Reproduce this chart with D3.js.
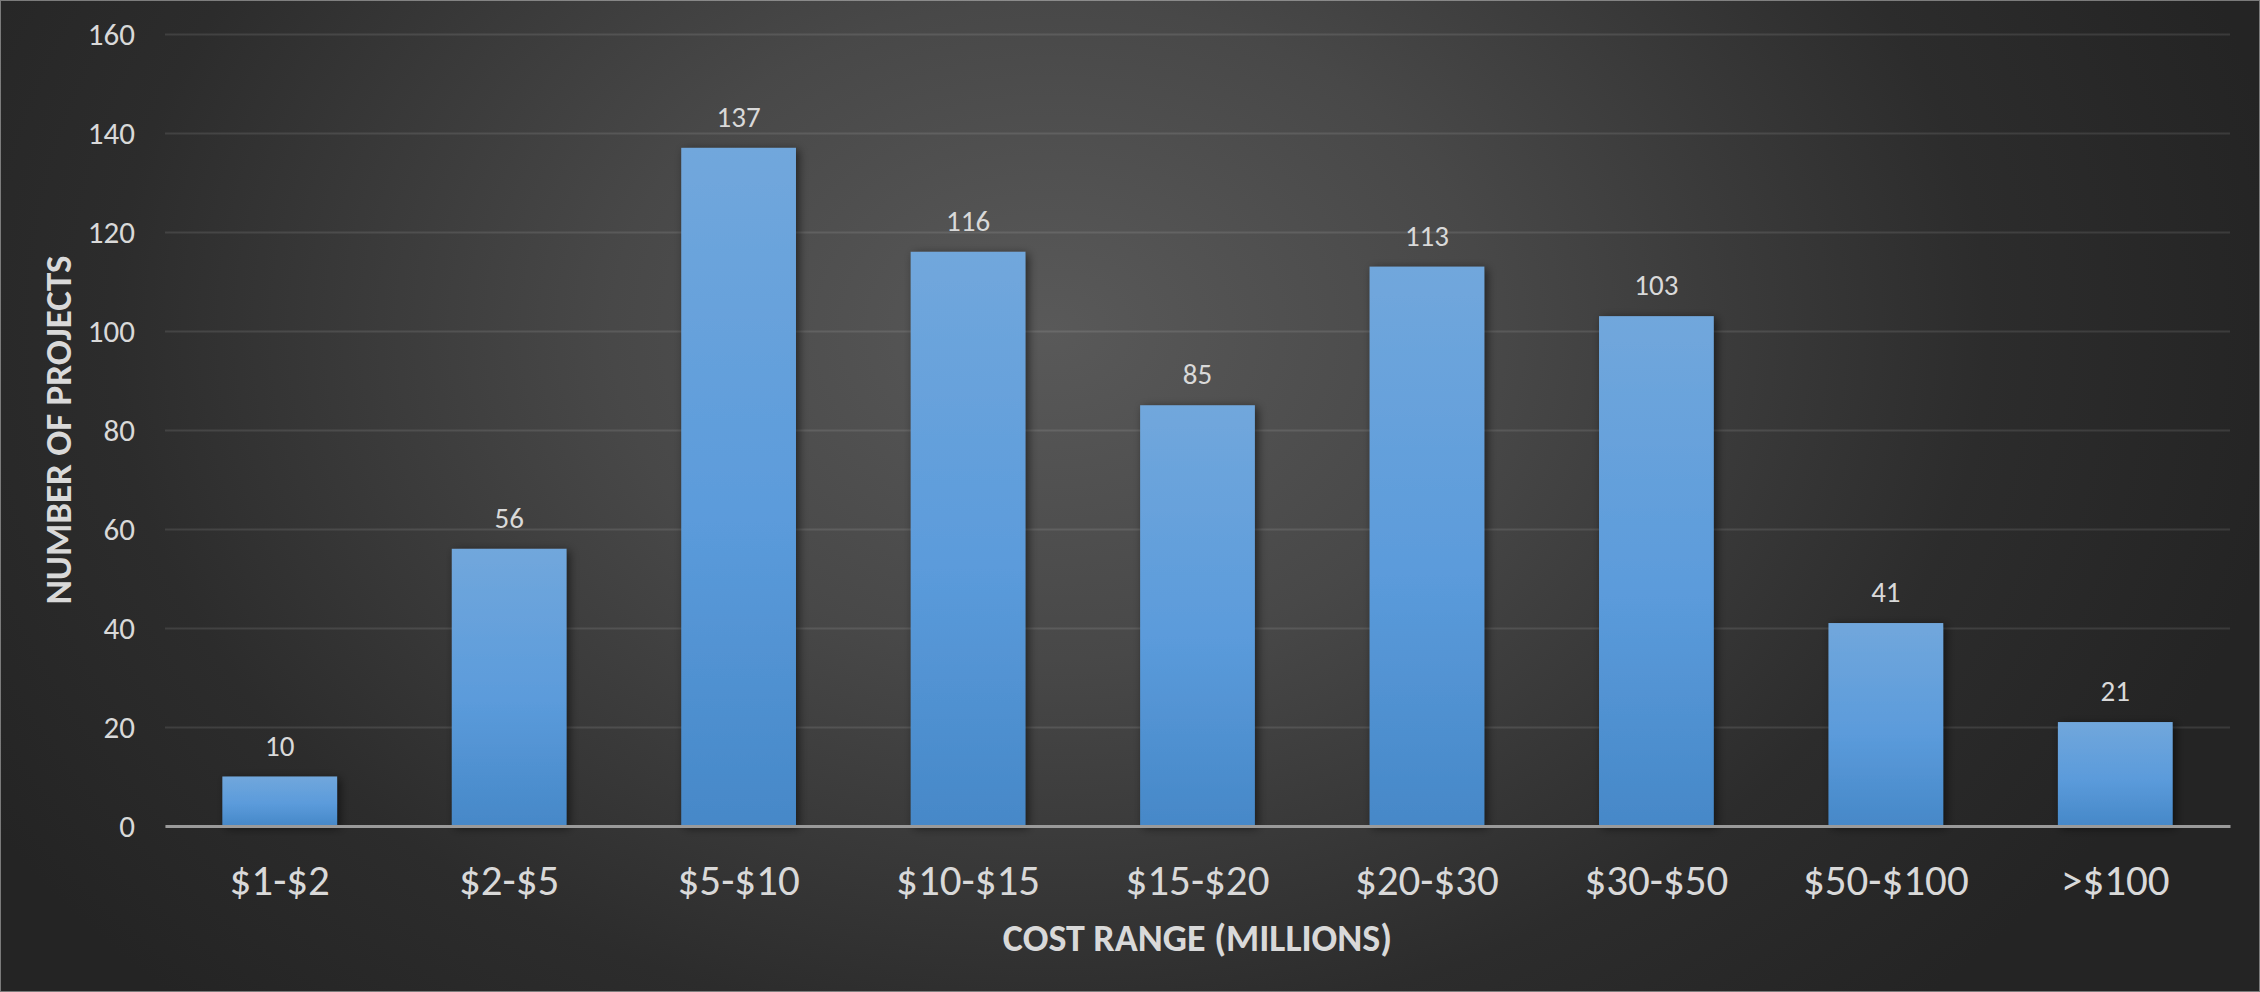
<!DOCTYPE html>
<html>
<head>
<meta charset="utf-8">
<script src="https://cdn.jsdelivr.net/npm/d3@7"></script>
<style>
  html, body { margin: 0; padding: 0; background: #262626; }
  svg { display: block; }
  text { font-family: Carlito, Calibri, Lato, "Open Sans", sans-serif; fill: #d9d9d9; }
</style>
</head>
<body>
<svg id="chart" width="2260" height="992"></svg>
<script>
const categories = ["$1-$2", "$2-$5", "$5-$10", "$10-$15", "$15-$20", "$20-$30", "$30-$50", "$50-$100", ">$100"];
const projectCounts = [10, 56, 137, 116, 85, 113, 103, 41, 21];
const yTicks = [0, 20, 40, 60, 80, 100, 120, 140, 160];
const xTitle = "COST RANGE (MILLIONS)";
const yTitle = "NUMBER OF PROJECTS";

const W = 2260, H = 992;
const margin = { left: 165, right: 30, top: 34, bottom: 166 };
const svg = d3.select("#chart");
const defs = svg.append("defs");

const bg = defs.append("radialGradient").attr("id", "bg")
  .attr("gradientUnits", "userSpaceOnUse")
  .attr("cx", 1050).attr("cy", 330).attr("r", 1250)
  .attr("gradientTransform", "translate(1050,330) scale(1,0.75) translate(-1050,-330)");
bg.append("stop").attr("offset", "0%").attr("stop-color", "#595959");
bg.append("stop").attr("offset", "35%").attr("stop-color", "#484848");
bg.append("stop").attr("offset", "75%").attr("stop-color", "#2c2c2c");
bg.append("stop").attr("offset", "100%").attr("stop-color", "#242424");

const barGrad = defs.append("linearGradient").attr("id", "barGrad")
  .attr("x1", 0).attr("y1", 0).attr("x2", 0).attr("y2", 1);
barGrad.append("stop").attr("offset", "0%").attr("stop-color", "#71a7dc");
barGrad.append("stop").attr("offset", "55%").attr("stop-color", "#5b9bdb");
barGrad.append("stop").attr("offset", "100%").attr("stop-color", "#4688c8");

const shadow = defs.append("filter").attr("id", "shadow")
  .attr("x", "-20%").attr("y", "-20%").attr("width", "140%").attr("height", "140%");
shadow.append("feDropShadow").attr("dx", 3).attr("dy", 2).attr("stdDeviation", 5)
  .attr("flood-color", "#000").attr("flood-opacity", 0.55);

svg.append("rect").attr("width", W).attr("height", H).attr("fill", "url(#bg)");
svg.append("rect").attr("x", 0.5).attr("y", 0.5).attr("width", W - 1).attr("height", H - 1)
  .attr("fill", "none").attr("stroke", "#d0d0d0").attr("stroke-width", 1).attr("opacity", 0.5);

const x = d3.scaleBand().domain(categories)
  .range([margin.left, W - margin.right]).paddingInner(0.5).paddingOuter(0.25);
const y = d3.scaleLinear().domain([0, 160]).range([H - margin.bottom, margin.top]);

// gridlines
const yAxis = d3.axisLeft(y).tickValues(yTicks).tickSize(-(W - margin.right - margin.left)).tickPadding(30);
const gy = svg.append("g").attr("transform", `translate(${margin.left},0)`).call(yAxis);
gy.select(".domain").remove();
gy.selectAll(".tick line").attr("stroke", "#ffffff").attr("stroke-opacity", 0.1).attr("stroke-width", 2);
gy.selectAll(".tick text").attr("font-size", 31).attr("fill", "#d9d9d9").attr("dy", "0.34em");

// bars
svg.append("g").selectAll("rect").data(projectCounts).join("rect")
  .attr("x", (d, i) => x(categories[i]))
  .attr("y", d => y(d))
  .attr("width", x.bandwidth())
  .attr("height", d => y(0) - y(d))
  .attr("fill", "url(#barGrad)")
  .attr("filter", "url(#shadow)");

// baseline + x labels
const xAxis = d3.axisBottom(x).tickSize(0).tickPadding(38);
const gx = svg.append("g").attr("transform", `translate(0,${y(0)})`).call(xAxis);
gx.select(".domain").attr("stroke", "#9a9a9a").attr("stroke-width", 3);
gx.selectAll(".tick text").attr("font-size", 43).attr("fill", "#d9d9d9");

// data labels
svg.append("g").selectAll("text").data(projectCounts).join("text")
  .attr("x", (d, i) => x(categories[i]) + x.bandwidth() / 2)
  .attr("y", d => y(d) - 21)
  .attr("text-anchor", "middle")
  .attr("font-size", 29)
  .text(d => d);

// axis titles
svg.append("text")
  .attr("x", (margin.left + W - margin.right) / 2)
  .attr("y", 951)
  .attr("text-anchor", "middle")
  .attr("font-size", 38)
  .attr("font-weight", "bold")
  .text(xTitle);

svg.append("text")
  .attr("transform", `translate(71,${(y(0) + y(160)) / 2}) rotate(-90)`)
  .attr("text-anchor", "middle")
  .attr("font-size", 37)
  .attr("font-weight", "bold")
  .text(yTitle);
</script>
</body>
</html>
